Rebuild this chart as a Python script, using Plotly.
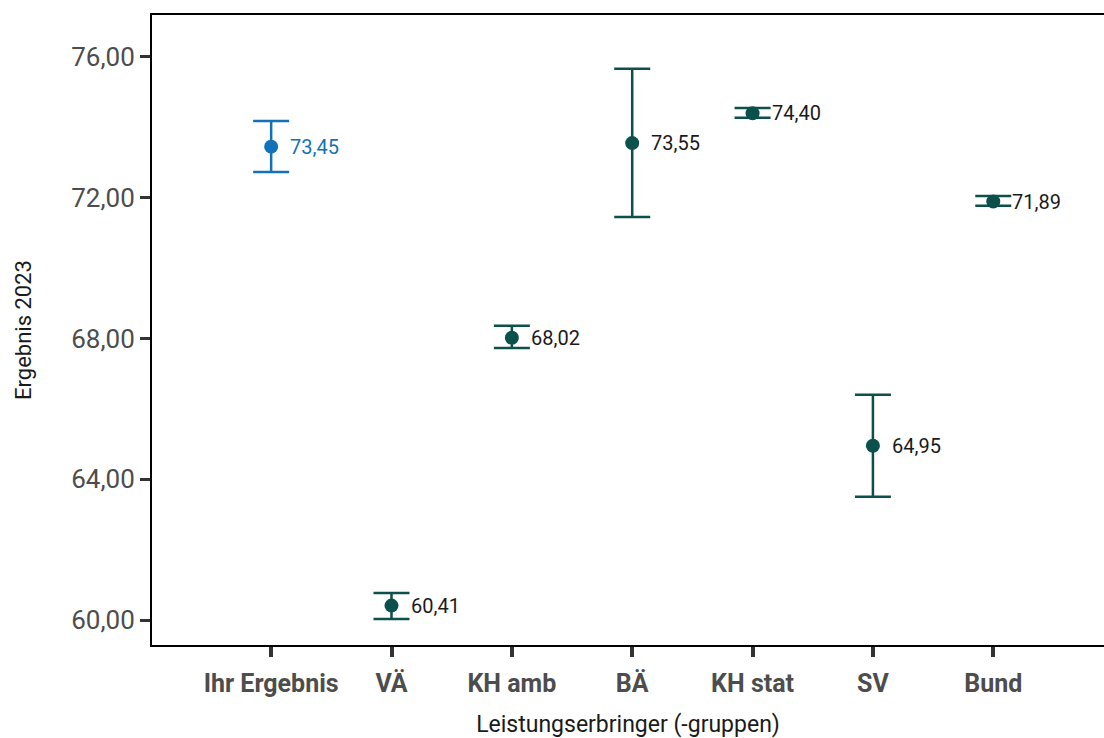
import plotly.graph_objects as go

categories = ["Ihr Ergebnis", "VÄ", "KH amb", "BÄ", "KH stat", "SV", "Bund"]
values = [73.45, 60.41, 68.02, 73.55, 74.40, 64.95, 71.89]
upper = [74.18, 60.77, 68.36, 75.66, 74.55, 66.40, 72.05]
lower = [72.73, 60.03, 67.73, 71.45, 74.27, 63.50, 71.77]
ytick_vals = [60, 64, 68, 72, 76]
ytick_text = ["60,00", "64,00", "68,00", "72,00", "76,00"]

BLUE = "#1172b8"
TEAL = "#0c504b"
FONT = "Roboto"

fig = go.Figure()
idx = list(range(len(categories)))
for group, color in [([0], BLUE), (idx[1:], TEAL)]:
    fig.add_trace(go.Scatter(
        x=[i for i in group],
        y=[values[i] for i in group],
        mode="markers",
        marker=dict(size=14, color=color),
        error_y=dict(type="data", symmetric=False,
                     array=[upper[i] - values[i] for i in group],
                     arrayminus=[values[i] - lower[i] for i in group],
                     color=color, thickness=2.5, width=18),
        showlegend=False, hoverinfo="skip"))

for i, v in enumerate(values):
    fig.add_annotation(x=i, y=v, text=f"{v:.2f}".replace(".", ","),
                       showarrow=False, xanchor="left", yanchor="middle",
                       xshift=17, font=dict(family=FONT, size=20,
                                            color=BLUE if i == 0 else "#1a1a1a"))

fig.update_layout(
    width=1104, height=738,
    margin=dict(l=152, r=0, t=15, b=93),
    plot_bgcolor="white", paper_bgcolor="white",
    font=dict(family=FONT),
    xaxis=dict(range=[-0.99, 6.92], tickvals=idx, ticktext=categories,
               tickfont=dict(family=FONT, size=25, color="#4d4d4d", weight="bold"),
               showline=True, linecolor="black", linewidth=2, mirror=True,
               ticks="outside", ticklen=10, tickwidth=4, tickcolor="#333333",
               ticklabelstandoff=5,
               showgrid=False, zeroline=False,
               title=dict(text="Leistungserbringer (-gruppen)",
                          font=dict(family=FONT, size=23, color="#1a1a1a"), standoff=19)),
    yaxis=dict(range=[59.29, 77.19], tickvals=ytick_vals, ticktext=ytick_text,
               tickfont=dict(family=FONT, size=26, color="#4d4d4d"),
               showline=True, linecolor="black", linewidth=2,
               ticks="outside", ticklen=10, tickwidth=3, tickcolor="#333333",
               showgrid=False, zeroline=False,
               title=dict(text="Ergebnis 2023",
                          font=dict(family=FONT, size=22, color="#1a1a1a"), standoff=34)),
)

fig.write_html("out.html", config={"displayModeBar": False},
               post_script="document.body.style.margin='0';document.body.style.overflow='hidden';")
